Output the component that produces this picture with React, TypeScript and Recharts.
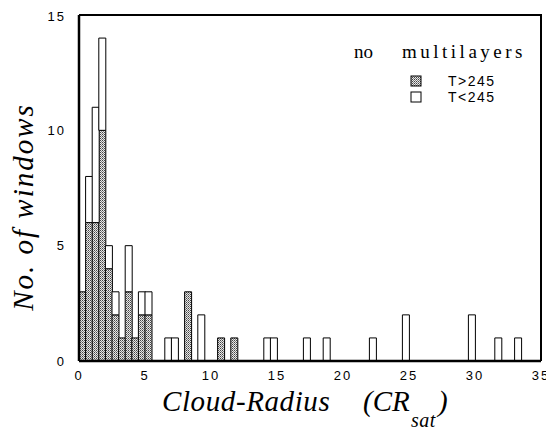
import React from "react";
import { ComposedChart, Bar, XAxis, YAxis } from "recharts";

const binStarts = [0, 0.5, 1, 1.5, 2, 2.5, 3, 3.5, 4, 4.5, 5, 6.5, 7, 8, 9, 10.5, 11.5, 14, 14.5, 17, 18.5, 22, 24.5, 29.5, 31.5, 33];
const warmCounts = [3, 6, 6, 10, 4, 2, 1, 3, 1, 2, 2, 0, 0, 3, 0, 1, 1, 0, 0, 0, 0, 0, 0, 0, 0, 0];
const coldCounts = [0, 2, 5, 4, 1, 1, 0, 2, 0, 1, 1, 1, 1, 0, 2, 0, 0, 1, 1, 1, 1, 1, 2, 2, 1, 1];
const binWidth = 0.5;
const xTicks = [0, 5, 10, 15, 20, 25, 30, 35];
const yTicks = [0, 5, 10, 15];
const seriesNames = ["T>245", "T<245"];
const legendTitleA = "no";
const legendTitleB = "multilayers";
const xTitleMain = "Cloud-Radius";
const xTitleOpen = "(CR";
const xTitleSub = "sat";
const xTitleClose = ")";
const yTitle = "No. of windows";

const data = binStarts.map((s, i) => ({
  x: s + binWidth / 2,
  warm: warmCounts[i],
  cold: coldCounts[i],
}));

const tickStyle = { fontFamily: "Liberation Sans, Arial, sans-serif", fontSize: 13, fill: "#000", letterSpacing: 2 };
const W = 546;
const H = 420;
const M = { top: 7, right: 13, left: 0, bottom: 37 };
const Y_W = 71;
const X_H = 30;

const titleFont = {
  position: "absolute" as const,
  fontFamily: "Liberation Serif, serif",
  fontStyle: "italic",
  fontSize: 29,
  lineHeight: "26px",
  whiteSpace: "pre" as const,
  color: "#000",
};

export default function App() {
  return (
    <div style={{ position: "relative", width: W, height: 422, background: "#fff" }}>
      <ComposedChart width={W} height={H} data={data} margin={M} barCategoryGap={0} barGap={0}>
        <defs>
          <pattern id="dots" width={2} height={2} patternUnits="userSpaceOnUse">
            <rect width={2} height={2} fill="#e8e8e8" />
            <rect x={0} y={0} width={1} height={1} fill="#444" />
            <rect x={1} y={1} width={1} height={1} fill="#808080" />
          </pattern>
        </defs>
        <XAxis
          dataKey="x"
          type="number"
          domain={[0, 35]}
          ticks={xTicks}
          tickLine={false}
          tickMargin={4}
          height={X_H}
          axisLine={{ stroke: "#000", strokeWidth: 2.5 }}
          tick={tickStyle}
          allowDataOverflow
        />
        <YAxis
          type="number"
          domain={[0, 15]}
          ticks={yTicks}
          tickLine={false}
          tickMargin={7}
          width={Y_W}
          axisLine={{ stroke: "#000", strokeWidth: 2.5 }}
          tick={tickStyle}
          allowDataOverflow
        />
        <Bar dataKey="warm" stackId="a" fill="url(#dots)" stroke="#000" strokeWidth={1} isAnimationActive={false} />
        <Bar dataKey="cold" stackId="a" fill="#fff" stroke="#000" strokeWidth={1} isAnimationActive={false} />
      </ComposedChart>
      {/* plot frame (top and right edges) */}
      <div
        style={{
          position: "absolute",
          left: M.left + Y_W,
          top: M.top - 1,
          width: W - M.right - M.left - Y_W + 1,
          height: H - M.top - M.bottom - X_H + 1,
          borderTop: "2px solid #000",
          borderRight: "2px solid #000",
          boxSizing: "border-box",
          pointerEvents: "none",
        }}
      />
      <div style={{ position: "absolute", top: 32, left: 346, fontFamily: "Liberation Serif, serif", color: "#000", fontSize: 19, lineHeight: "24px", whiteSpace: "pre" }}>
        <span>{legendTitleA}</span>
        <span style={{ marginLeft: 29, letterSpacing: 3.5 }}>{legendTitleB}</span>
      </div>
      <div style={{ position: "absolute", top: 65, left: 402 }}>
        {seriesNames.map((n, i) => (
          <div key={n} style={{ display: "flex", alignItems: "center", height: 16 }}>
            <svg width={12} height={12} style={{ marginRight: 26 }}>
              <rect x={1} y={1} width={10} height={10} fill={i === 0 ? "url(#dots)" : "#fff"} stroke="#000" strokeWidth={1} />
            </svg>
            <span style={{ fontFamily: "Liberation Sans, Arial, sans-serif", fontSize: 14, letterSpacing: 1.5 }}>{n}</span>
          </div>
        ))}
      </div>
      <div style={{ ...titleFont, left: 154, top: 380, letterSpacing: 0.6 }}>{xTitleMain}</div>
      <div style={{ ...titleFont, left: 355, top: 380 }}>{xTitleOpen}</div>
      <div style={{ ...titleFont, left: 430, top: 380 }}>{xTitleClose}</div>
      <div style={{ ...titleFont, fontSize: 20, lineHeight: "16px", left: 403, top: 404, letterSpacing: 0.5 }}>{xTitleSub}</div>
      <div
        style={{
          ...titleFont,
          left: 15,
          top: 199,
          lineHeight: "28px",
          letterSpacing: 2,
          transform: "translate(-50%, -50%) rotate(-90deg)",
        }}
      >
        {yTitle}
      </div>
    </div>
  );
}
